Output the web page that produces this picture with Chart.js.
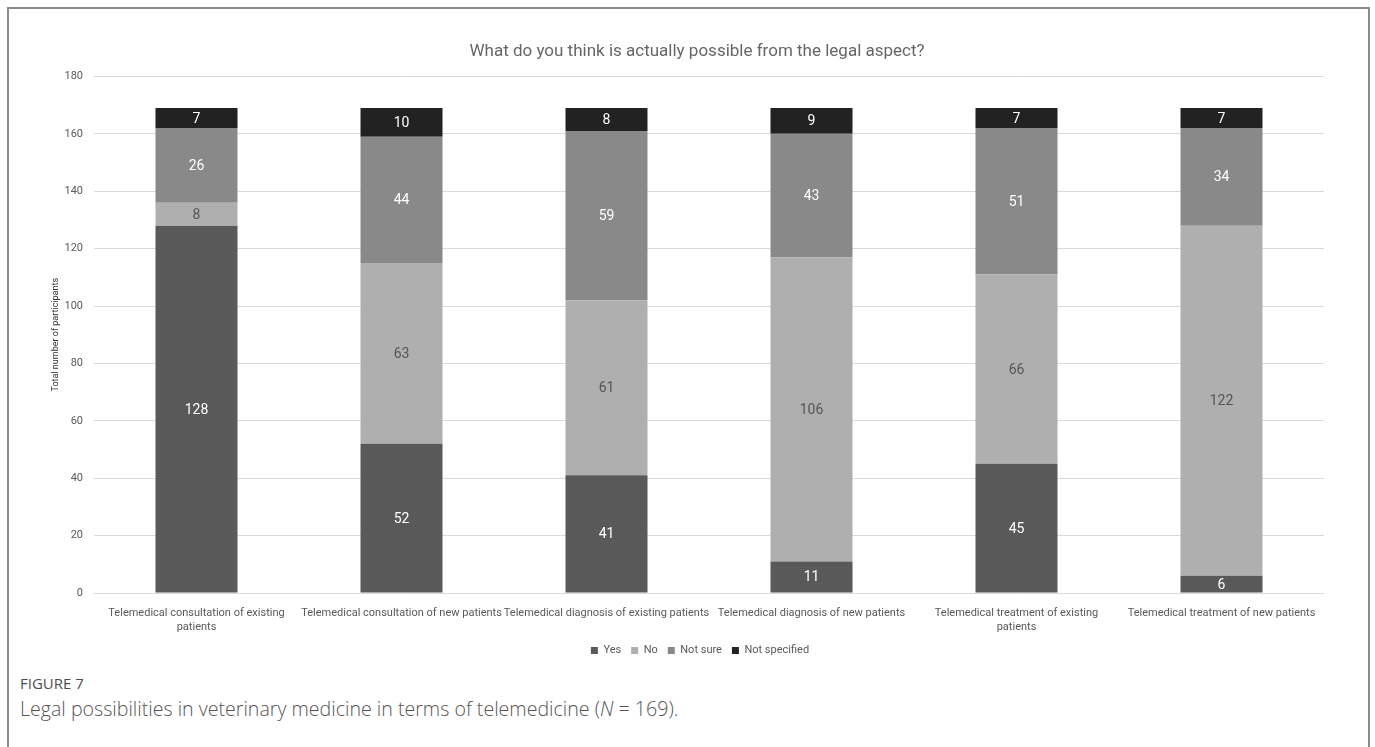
<!DOCTYPE html>
<html>
<head>
<meta charset="utf-8">
<script src="https://cdn.jsdelivr.net/npm/chart.js@4"></script>
<style>
  html, body { margin: 0; padding: 0; background: #fff; }
  body { width: 1375px; height: 747px; position: relative; overflow: hidden; }
  .frame { position: absolute; left: 7px; top: 7px; width: 1359px; height: 760px; border: 2px solid #8c8c8c; border-bottom: none; }
  .chart-box { position: absolute; left: 0; top: 0; width: 1375px; height: 670px; }
  .fig-no { position: absolute; left: 20px; top: 673px; line-height: 20px; font: 500 15px "Open Sans", sans-serif; color: #4d4d4d; }
  .fig-text { position: absolute; left: 20px; top: 695px; line-height: 26px; font: 300 19.6px "Open Sans", sans-serif; color: #555; }
</style>
</head>
<body>
<div class="frame"></div>
<div class="chart-box"><canvas id="legalChart"></canvas></div>
<div class="fig-no">FIGURE 7</div>
<div class="fig-text">Legal possibilities in veterinary medicine in terms of telemedicine (<i>N</i> = 169).</div>
<script>
const categories = [
  ["Telemedical consultation of existing", "patients"],
  "Telemedical consultation of new patients",
  "Telemedical diagnosis of existing patients",
  "Telemedical diagnosis of new patients",
  ["Telemedical treatment of existing", "patients"],
  "Telemedical treatment of new patients"
];
const yesValues = [128, 52, 41, 11, 45, 6];
const noValues = [8, 63, 61, 106, 66, 122];
const notSureValues = [26, 44, 59, 43, 51, 34];
const notSpecifiedValues = [7, 10, 8, 9, 7, 7];

const labelFont = '"Liberation Sans Narrow", "Roboto", sans-serif';

// draws the value in the middle of each bar segment
const barValues = {
  id: "barValues",
  afterDatasetsDraw(chart) {
    const ctx = chart.ctx;
    ctx.save();
    ctx.font = "14px " + labelFont;
    ctx.textAlign = "center";
    ctx.textBaseline = "middle";
    chart.data.datasets.forEach((ds, i) => {
      chart.getDatasetMeta(i).data.forEach((bar, j) => {
        const mid = (bar.y + bar.base) / 2;
        ctx.fillStyle = ds.valueColor;
        ctx.fillText(ds.data[j], bar.x, mid + 1);
      });
    });
    ctx.restore();
  }
};

// the excel title and legend sit a bit right of the plot centre
const nudgeBlocks = {
  id: "nudgeBlocks",
  afterLayout(chart) {
    chart.titleBlock.left += 10;
    chart.titleBlock.right += 10;
    chart.legend.left += 13;
    chart.legend.right += 13;
  }
};

new Chart(document.getElementById("legalChart"), {
  type: "bar",
  data: {
    labels: categories,
    datasets: [
      { label: "Yes", data: yesValues, backgroundColor: "#595959", valueColor: "#ffffff" },
      { label: "No", data: noValues, backgroundColor: "#afafaf", valueColor: "#555555" },
      { label: "Not sure", data: notSureValues, backgroundColor: "#898989", valueColor: "#ffffff" },
      { label: "Not specified", data: notSpecifiedValues, backgroundColor: "#222222", valueColor: "#ffffff" }
    ]
  },
  options: {
    responsive: true,
    maintainAspectRatio: false,
    animation: false,
    categoryPercentage: 1,
    barPercentage: 0.4,
    layout: { padding: { left: 50, right: 51, top: 0, bottom: 4 } },
    scales: {
      x: {
        stacked: true,
        grid: { display: false },
        border: { display: false },
        ticks: {
          autoSkip: false,
          maxRotation: 0,
          padding: 6,
          color: "#595959",
          font: { size: 11, family: labelFont }
        },
        afterFit(scale) { scale.height = 42; }
      },
      y: {
        stacked: true,
        min: 0,
        max: 180,
        grid: { color: "#d9d9d9", drawTicks: false },
        border: { display: false },
        ticks: {
          stepSize: 20,
          padding: 11,
          color: "#595959",
          font: { size: 11, family: labelFont }
        },
        title: {
          display: true,
          text: "Total number of participants",
          color: "#333",
          padding: 0,
          font: { size: 9, family: labelFont }
        },
        afterFit(scale) { scale.width = 44; }
      }
    },
    plugins: {
      title: {
        display: true,
        text: "What do you think is actually possible from the legal aspect?",
        color: "#666666",
        font: { size: 17, weight: "normal", family: labelFont },
        padding: { top: 42, bottom: 14 }
      },
      legend: {
        position: "bottom",
        labels: {
          boxWidth: 7,
          boxHeight: 7,
          padding: 10,
          color: "#595959",
          font: { size: 11, family: labelFont }
        }
      },
      tooltip: { enabled: false }
    }
  },
  plugins: [barValues, nudgeBlocks]
});
</script>
</body>
</html>
